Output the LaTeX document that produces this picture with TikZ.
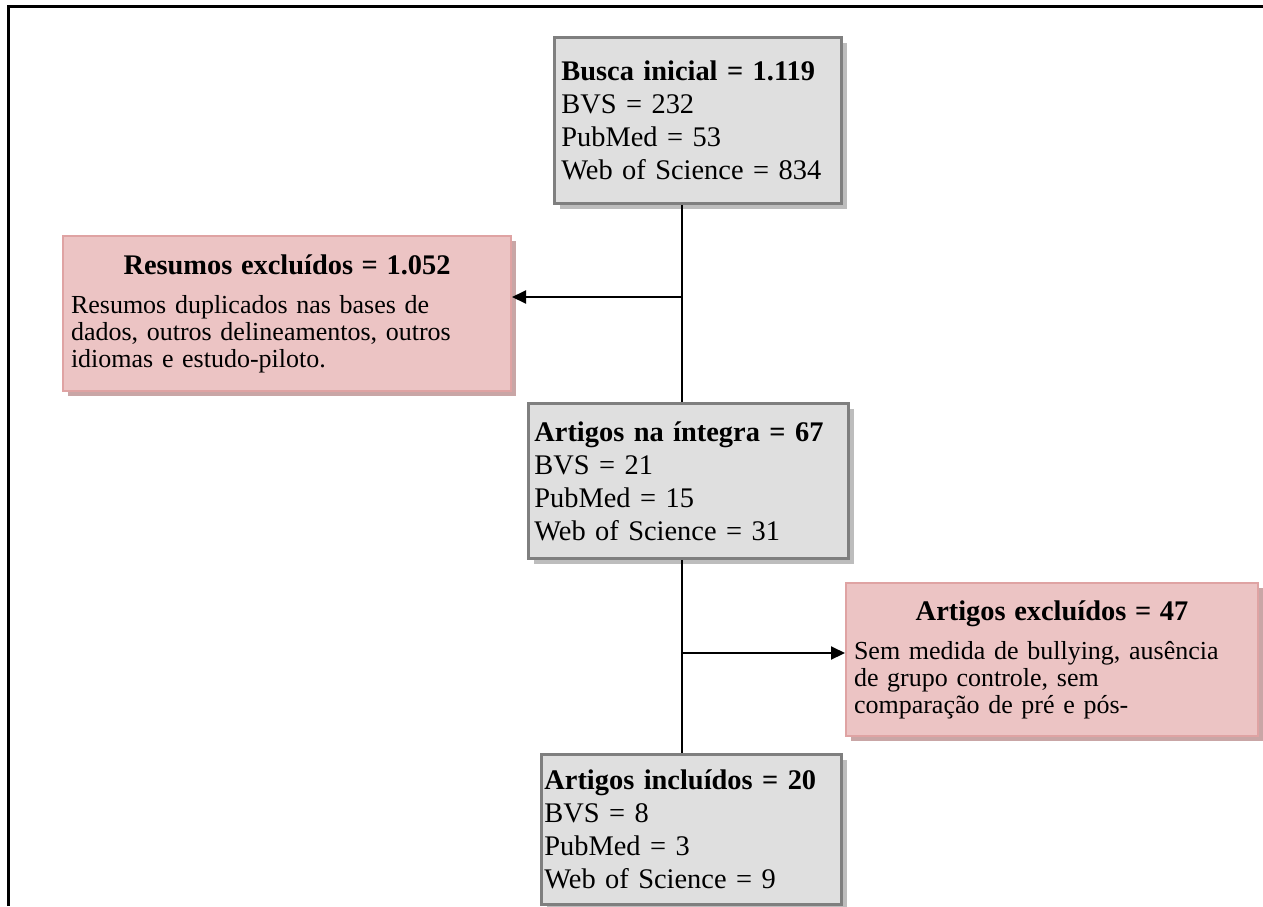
\documentclass[tikz,border=0pt]{standalone}
\usepackage{fontspec}
\setmainfont{Liberation Serif}
\usetikzlibrary{arrows.meta,shadows}

\definecolor{boxgray}{HTML}{DFDFDF}
\definecolor{edgegray}{HTML}{7F7F7F}
\definecolor{shadegray}{HTML}{BDBDBD}
\definecolor{boxpink}{HTML}{ECC4C4}
\definecolor{edgepink}{HTML}{DFA3A3}
\definecolor{shadepink}{HTML}{C9A6A6}

\newcommand{\bigfont}{\fontsize{14.2}{16.5}\selectfont}
\newcommand{\smallfont}{\fontsize{13}{13.5}\selectfont}
\newcommand{\boxtitle}[1]{\makebox[\hsize]{\bfseries\bigfont #1}}

\begin{document}
\begin{tikzpicture}[x=0.5pt, y=-0.5pt,
  graybox/.style={draw=edgegray, line width=1.4pt, fill=boxgray,
    anchor=north west, align=left, font=\bigfont, inner ysep=0pt,
    drop shadow={shadow xshift=3pt, shadow yshift=-3pt, fill=shadegray, opacity=1}},
  pinkbox/.style={draw=edgepink, line width=1pt, fill=boxpink,
    anchor=north west, align=left, font=\smallfont, inner ysep=0pt,
    drop shadow={shadow xshift=2.5pt, shadow yshift=-2.5pt, fill=shadepink, opacity=1}},
  conn/.style={line width=1pt, -{Triangle[length=7pt,width=6.5pt]}},
  plainconn/.style={line width=1pt},
  frame/.style={line width=1.5pt}]

  \useasboundingbox (0,0) rectangle (1263,906);

  % Frame
  \draw[frame] (8,906) -- (8,6) -- (1263,6);

  % Boxes
  \node[graybox, text width=136.5pt, inner xsep=3.5pt, minimum height=83pt]
    (inicial) at (553,36)
    {\textbf{Busca inicial = 1.119}\\ BVS = 232\\ PubMed = 53\\ Web of Science = 834};
  \node[pinkbox, text width=216pt, inner xsep=4pt, minimum height=77.5pt]
    (resumos) at (62,235)
    {\boxtitle{Resumos excluídos = 1.052}\\[6pt]
     Resumos duplicados nas bases de\\ dados, outros delineamentos, outros\\
     idiomas e estudo-piloto.};
  \node[graybox, text width=154pt, inner xsep=3pt, minimum height=77.5pt]
    (integra) at (527,402)
    {\textbf{Artigos na íntegra = 67}\\ BVS = 21\\ PubMed = 15\\ Web of Science = 31};
  \node[pinkbox, text width=198pt, inner xsep=4pt, minimum height=76.5pt]
    (artexcl) at (845,582)
    {\boxtitle{Artigos excluídos = 47}\\[6pt]
     Sem medida de bullying, ausência\\ de grupo controle, sem\\
     comparação de pré e pós-};
  \node[graybox, text width=147pt, inner xsep=1.5pt, minimum height=75pt]
    (incluidos) at (540,753)
    {\textbf{Artigos incluídos = 20}\\ BVS = 8\\ PubMed = 3\\ Web of Science = 9};

  % Connectors
  \coordinate (spine) at (682,0);
  \coordinate (j1) at (682,297);
  \coordinate (j2) at (682,653);
  \draw[plainconn] (inicial.south -| spine) -- (integra.north -| spine);
  \draw[plainconn] (integra.south -| spine) -- (incluidos.north -| spine);
  \draw[conn] (j1) -- (j1 -| resumos.east);
  \draw[conn] (j2) -- (j2 -| artexcl.west);
\end{tikzpicture}
\end{document}
